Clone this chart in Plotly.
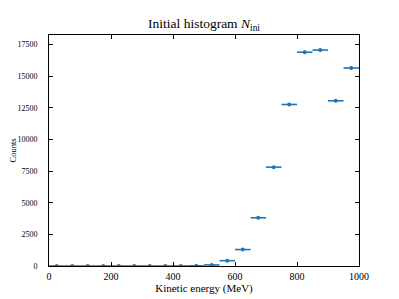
import numpy as np
import plotly.graph_objects as go

# Bin centres (MeV) and counts
energy = [25, 75, 125, 175, 225, 275, 325, 375, 425, 475,
          525, 575, 625, 675, 725, 775, 825, 875, 925, 975]
counts = [0, 0, 0, 0, 0, 0, 0, 0, 2, 15,
          85, 420, 1300, 3810, 7810, 12760, 16890, 17060, 13050, 15640]
bin_half_width = [25] * len(energy)
count_err = [float(np.sqrt(c)) for c in counts]

x_ticks = [0, 200, 400, 600, 800, 1000]
x_tick_labels = ["0", "200", "400", "600", "800", "1000"]
y_ticks = [0, 2500, 5000, 7500, 10000, 12500, 15000, 17500]
y_tick_labels = ["0", "2500", "5000", "7500", "10000", "12500", "15000", "17500"]

blue = "#1f77b4"
font = "Liberation Serif"

fig = go.Figure()
fig.add_trace(go.Scatter(
    x=energy, y=counts, mode="markers",
    marker=dict(color=blue, size=4, symbol="circle"),
    error_x=dict(type="data", array=bin_half_width, color=blue, thickness=1.6, width=0),
    error_y=dict(type="data", array=count_err, color=blue, thickness=1.6, width=0),
    showlegend=False,
))

axis_common = dict(
    showline=True, linecolor="black", linewidth=1, mirror="ticks",
    ticks="inside", ticklen=4, tickwidth=1, tickcolor="black",
    showgrid=False, zeroline=False, automargin=False,
)

# page body adds an 8px offset; size and margins compensate for it
fig.update_layout(
    width=391, height=291,
    margin=dict(l=41, r=40, t=27, b=33),
    paper_bgcolor="white", plot_bgcolor="white",
    font=dict(family=font, color="black"),
    title=dict(text="Initial histogram <i>N</i><sub>ini</sub>",
               x=0.5, xref="paper", xanchor="center",
               y=1, yref="container", yanchor="top", pad=dict(t=11),
               font=dict(family=font, size=13.5, color="black")),
    xaxis=dict(range=[0, 1000], tickvals=x_ticks, ticktext=x_tick_labels,
               tickfont=dict(family=font, size=10, color="black"),
               ticklabelstandoff=1,
               title=dict(text="Kinetic energy (MeV)", font=dict(family=font, size=11), standoff=3),
               **axis_common),
    yaxis=dict(range=[0, 18250], tickvals=y_ticks, ticktext=y_tick_labels,
               tickfont=dict(family=font, size=8, color="black"),
               title=dict(text="Counts", font=dict(family=font, size=8.5), standoff=8),
               ticklabelstandoff=9,
               **axis_common),
)

fig.write_html("out.html")
